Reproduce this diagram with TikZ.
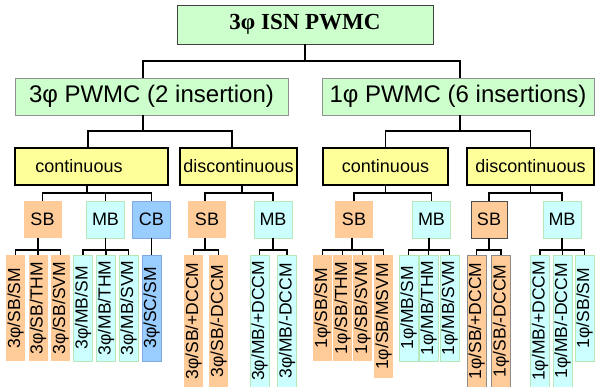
\documentclass[tikz,border=0pt]{standalone}
\usepackage{fontspec}
\setmainfont{Liberation Sans}
\newfontfamily\tnr{Liberation Serif}
\definecolor{gr}{HTML}{CCFFCC}
\definecolor{grb}{HTML}{909090}
\definecolor{ye}{HTML}{FFFF99}
\definecolor{or}{HTML}{FFCC99}
\definecolor{cy}{HTML}{CCFFFF}
\definecolor{cyb}{HTML}{B8E8B8}
\definecolor{bl}{HTML}{99CCFF}
\definecolor{blb}{HTML}{80AADD}
\begin{document}
\begin{tikzpicture}[x=1pt,y=-1pt,
  base/.style={inner sep=0pt,outer sep=0pt},
  lone/.style={base,fill=gr,draw=black!75,line width=0.8pt,minimum width=256pt,minimum height=39pt,
    font=\tnr\bfseries\fontsize{23}{26}\selectfont},
  ltwo/.style={base,fill=gr,draw=grb,line width=0.8pt,minimum height=37pt,font=\fontsize{24}{26}\selectfont},
  lthree/.style={base,fill=ye,draw=black,line width=1.4pt,minimum height=37pt,font=\fontsize{18}{20}\selectfont},
  lfour/.style={base,minimum width=38pt,minimum height=37pt,font=\fontsize{18}{20}\selectfont},
  sbx/.style={lfour,fill=or},
  mbx/.style={lfour,fill=cy,draw=cyb,line width=0.8pt},
  cbx/.style={lfour,fill=bl,draw=blb,line width=0.8pt},
  leaf/.style={base,rotate=90,minimum height=19pt,font=\fontsize{17.5}{20}\selectfont},
  sleaf/.style={leaf,minimum width=106pt},
  lleaf/.style={leaf,minimum width=132pt},
  mleaf/.style={leaf,minimum width=123pt},
  osb/.style={fill=or},
  omb/.style={fill=cy,draw=cyb,line width=0.8pt},
  ocb/.style={fill=bl,draw=blb,line width=0.8pt},
  conn/.style={draw=black,line width=1.6pt}]
\useasboundingbox[fill=white] (0,0) rectangle (600,387);

% level 1-2
\node[lone] (top) at (305,24.5) {3φ ISN PWMC};
\node[ltwo,minimum width=273pt] (pa) at (151.5,96.5) {3φ PWMC (2 insertion)};
\node[ltwo,minimum width=272pt] (pb) at (458,96.5) {1φ PWMC (6 insertions)};

% level 3
\node[lthree,minimum width=153pt] (ca) at (91.5,166.5) {\hspace*{-25pt}continuous};
\node[lthree,minimum width=117pt] (da) at (238.5,166.5) {discontinuous};
\node[lthree,minimum width=125pt] (cb) at (385.5,166.5) {continuous};
\node[lthree,minimum width=127pt] (db) at (530.5,166.5) {discontinuous};

% level 4
\node[sbx] (sa1) at (42.5,219.5) {SB};
\node[mbx] (ma1) at (105.5,219.5) {MB};
\node[cbx] (cba) at (151.5,219.5) {CB};
\node[sbx] (sa2) at (207,219.5) {SB};
\node[mbx] (ma2) at (273,219.5) {MB};
\node[sbx] (sb1) at (354,219.5) {SB};
\node[mbx] (mb1) at (431.5,219.5) {MB};
\node[sbx,draw=black!70,line width=0.8pt,minimum width=36pt] (sb2) at (489,219.5) {SB};
\node[mbx] (mb2) at (562,219.5) {MB};

% leaves 3phi
\node[sleaf,osb] (a1) at (15.5,308) {3φ/SB/SM};
\node[sleaf,osb] (a2) at (38,308) {3φ/SB/THM};
\node[sleaf,osb] (a3) at (60.5,308) {3φ/SB/SVM};
\node[sleaf,omb] (a4) at (83,308) {3φ/MB/SM};
\node[sleaf,omb] (a5) at (106,308) {3φ/MB/THM};
\node[sleaf,omb] (a6) at (128.5,308) {3φ/MB/SVM};
\node[sleaf,ocb] (a7) at (151.5,308) {3φ/SC/SM};
\node[lleaf,osb] (a8) at (193.5,321) {3φ/SB/+DCCM};
\node[lleaf,osb] (a9) at (218.5,321) {3φ/SB/-DCCM};
\node[lleaf,omb] (a10) at (259.5,321) {3φ/MB/+DCCM};
\node[lleaf,omb] (a11) at (287,321) {3φ/MB/-DCCM};

% leaves 1phi
\node[sleaf,osb] (b1) at (322.5,308) {1φ/SB/SM};
\node[sleaf,osb] (b2) at (342.5,308) {1φ/SB/THM};
\node[sleaf,osb] (b3) at (362.5,308) {1φ/SB/SVM};
\node[mleaf,osb] (b4) at (383.5,316.5) {1φ/SB/MSVM};
\node[sleaf,omb] (b5) at (408.5,308) {1φ/MB/SM};
\node[sleaf,omb] (b6) at (428.5,308) {1φ/MB/THM};
\node[sleaf,omb] (b7) at (449.5,308) {1φ/MB/SVM};
\node[lleaf,osb,draw=black!45,line width=0.8pt] (b8) at (476.5,321) {1φ/SB/+DCCM};
\node[lleaf,osb,draw=black!45,line width=0.8pt] (b9) at (501,321) {1φ/SB/-DCCM};
\node[lleaf,omb] (b10) at (540,321) {1φ/MB/+DCCM};
\node[lleaf,omb] (b11) at (562.5,321) {1φ/MB/-DCCM};
\node[sleaf,omb] (b12) at (584.5,308) {1φ/SB/SM};

% connectors level 1 -> 2
\draw[conn] (top.south) -- ++(0,17) -| ([xshift=-8.5pt]pa.north);
\draw[conn] (top.south) -- ++(0,17) -| ([xshift=2pt]pb.north);
% level 2 -> 3
\draw[conn] ([xshift=-8.5pt]pa.south) -- ++(0,16) -| ([xshift=-3.5pt]ca.north);
\draw[conn] ([xshift=-8.5pt]pa.south) -- ++(0,16) -| ([xshift=-6.5pt]da.north);
\draw[conn] ([xshift=2pt]pb.south) -- ++(0,16) -| (cb.north);
\draw[conn] ([xshift=2pt]pb.south) -- ++(0,16) -| (db.north);
% level 3 -> 4
\draw[conn] ([xshift=-4.5pt]ca.south) -- ++(0,8) -| (sa1.north);
\draw[conn] ([xshift=-4.5pt]ca.south) -- ++(0,8) -| (ma1.north);
\draw[conn] ([xshift=-4.5pt]ca.south) -- ++(0,8) -| (cba.north);
\draw[conn] ([xshift=3.5pt]da.south) -- ++(0,8) -| ([xshift=-2pt]sa2.north);
\draw[conn] ([xshift=3.5pt]da.south) -- ++(0,8) -| (ma2.north);
\draw[conn] (cb.south) -- ++(0,8) -| (sb1.north);
\draw[conn] (cb.south) -- ++(0,8) -| (mb1.north);
\draw[conn] (db.south) -- ++(0,8) -| (sb2.north);
\draw[conn] (db.south) -- ++(0,8) -| (mb2.north);
% level 4 -> leaves
\foreach \c in {a1,a2,a3}{\draw[conn] ([xshift=-4.5pt]sa1.south) -- ++(0,12) -| (\c.east);}
\foreach \c in {a4,a5,a6}{\draw[conn] (ma1.south) -- ++(0,12) -| (\c.east);}
\draw[conn] (cba.south) -- (a7.east);
\foreach \c in {a8,a9}{\draw[conn] ([xshift=-2pt]sa2.south) -- ++(0,12) -| (\c.east);}
\foreach \c in {a10,a11}{\draw[conn] (ma2.south) -- ++(0,12) -| (\c.east);}
\foreach \c in {b1,b2,b3,b4}{\draw[conn] ([xshift=-2pt]sb1.south) -- ++(0,12) -| (\c.east);}
\foreach \c in {b5,b6,b7}{\draw[conn] ([xshift=-2.5pt]mb1.south) -- ++(0,12) -| (\c.east);}
\foreach \c in {b8,b9}{\draw[conn] (sb2.south) -- ++(0,12) -| (\c.east);}
\foreach \c in {b10,b11,b12}{\draw[conn] (mb2.south) -- ++(0,12) -| (\c.east);}
\end{tikzpicture}
\end{document}
